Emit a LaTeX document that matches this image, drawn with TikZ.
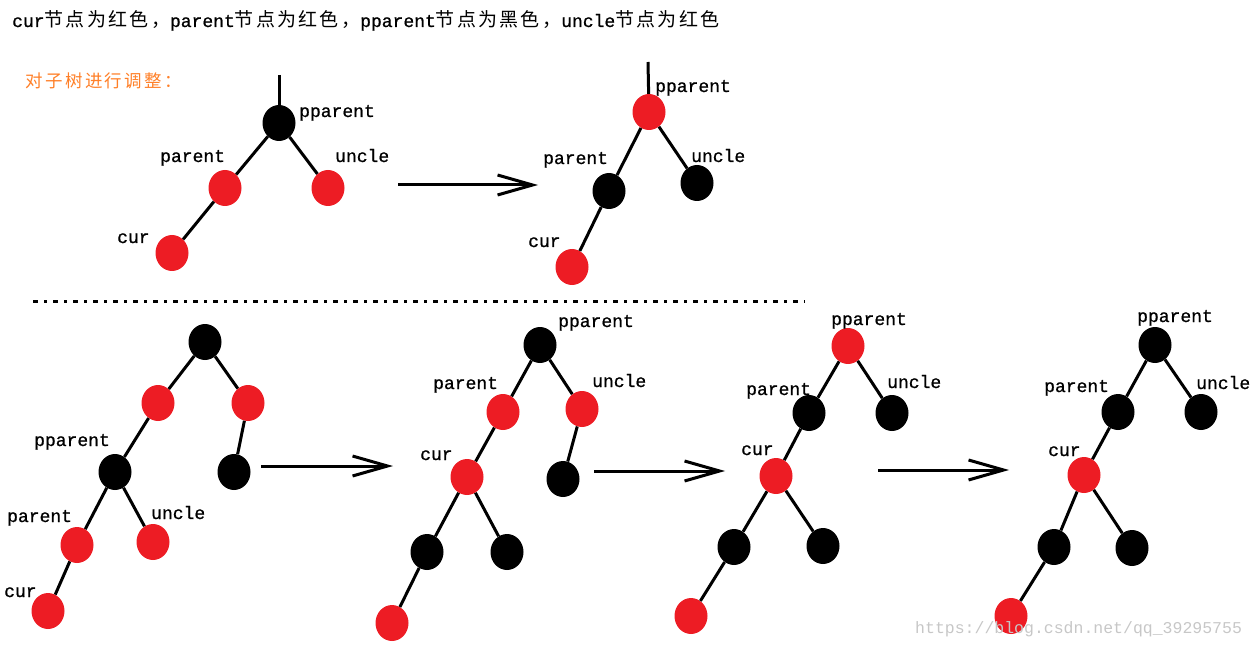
\documentclass[tikz,border=0pt]{standalone}
\usepackage{fontspec}
\setmainfont{Liberation Mono}[FakeBold=0.9]
\newfontfamily\wmfont{Liberation Mono}
\newfontfamily\cjk[LetterSpace=12]{Noto Sans CJK SC}
\newfontfamily\cjkb[LetterSpace=14]{Noto Sans CJK SC}
\usetikzlibrary{shapes.geometric,arrows.meta}
\definecolor{nred}{HTML}{ED1C24}
\definecolor{orng}{HTML}{FF7F27}
\newcommand\zh[1]{{\cjk\fontsize{19}{20}\selectfont #1}}
\begin{document}
\begin{tikzpicture}[x=1pt,y=-1pt,
  rn/.style={ellipse,fill=nred,minimum width=33pt,minimum height=36pt,inner sep=0pt},
  bn/.style={ellipse,fill=black,minimum width=33pt,minimum height=36pt,inner sep=0pt},
  lab/.style={inner sep=0pt,anchor=base west,font=\fontsize{18}{20}\selectfont},
  edge/.style={line width=3pt},
  bigarrow/.style={line width=3pt,-{Straight Barb[length=35pt,width=20pt]}},
  sep/.style={line width=3pt,dash pattern=on 5pt off 6pt on 3pt off 6pt}]
\useasboundingbox (0,0) rectangle (1256,647);

% header texts
\node[lab] (title) at (12,27) {cur\zh{节点为红色，}parent\zh{节点为红色，}pparent\zh{节点为黑色，}uncle\zh{节点为红色}};
\node[lab,text=orng] (sub) at (25,88) {{\cjkb\fontsize{17.5}{18}\selectfont 对子树进行调整：}};

% top-left tree
\node[bn] (a0) at (279,123) {};
\node[rn] (a1) at (225,188) {};
\node[rn] (a2) at (328,188) {};
\node[rn] (a3) at (172,253) {};
\coordinate (a0t) at (279,75);
\draw[edge] (a0t) -- (a0);
\draw[edge] (a0) -- (a1);
\draw[edge] (a0) -- (a2);
\draw[edge] (a1) -- (a3);
\node[lab] (la0) at (299,117) {pparent};
\node[lab] (la1) at (160,162) {parent};
\node[lab] (la2) at (335,162) {uncle};
\node[lab] (la3) at (117,243) {cur};

% arrow 1
\coordinate (r1s) at (398,185);
\coordinate (r1e) at (538,185);
\draw[bigarrow] (r1s) -- (r1e);

% top-right tree
\node[rn] (b0) at (649,112) {};
\node[bn] (b1) at (609,191) {};
\node[bn] (b2) at (697,183) {};
\node[rn] (b3) at (572,267) {};
\coordinate (b0t) at (648,62);
\draw[edge] (b0t) -- (b0);
\draw[edge] (b0) -- (b1);
\draw[edge] (b0) -- (b2);
\draw[edge] (b1) -- (b3);
\node[lab] (lb0) at (655,92) {pparent};
\node[lab] (lb1) at (543,164) {parent};
\node[lab] (lb2) at (691,162) {uncle};
\node[lab] (lb3) at (528,247) {cur};

% separator
\coordinate (s1) at (33,301);
\coordinate (s2) at (805,301);
\draw[sep] (s1) -- (s2);

% bottom-left tree
\node[bn] (c0) at (205,342) {};
\node[rn] (c1) at (158,403) {};
\node[rn] (c2) at (248,403) {};
\node[bn] (c3) at (115,472) {};
\node[bn] (c4) at (234,472) {};
\node[rn] (c5) at (77,545) {};
\node[rn] (c6) at (153,542) {};
\node[rn] (c7) at (48,611) {};
\draw[edge] (c0) -- (c1);
\draw[edge] (c0) -- (c2);
\draw[edge] (c1) -- (c3);
\draw[edge] (c2) -- (c4);
\draw[edge] (c3) -- (c5);
\draw[edge] (c3) -- (c6);
\draw[edge] (c5) -- (c7);
\node[lab] (lc3) at (34,446) {pparent};
\node[lab] (lc5) at (7,522) {parent};
\node[lab] (lc6) at (151,519) {uncle};
\node[lab] (lc7) at (4,597) {cur};

% arrow 2
\coordinate (r2s) at (261,466);
\coordinate (r2e) at (393,466);
\draw[bigarrow] (r2s) -- (r2e);

% middle tree 1
\node[bn] (d0) at (540,345) {};
\node[rn] (d1) at (503,412) {};
\node[rn] (d2) at (582,409) {};
\node[rn] (d3) at (467,477) {};
\node[bn] (d4) at (563,479) {};
\node[bn] (d5) at (427,552) {};
\node[bn] (d6) at (507,552) {};
\node[rn] (d7) at (392,623) {};
\draw[edge] (d0) -- (d1);
\draw[edge] (d0) -- (d2);
\draw[edge] (d1) -- (d3);
\draw[edge] (d2) -- (d4);
\draw[edge] (d3) -- (d5);
\draw[edge] (d3) -- (d6);
\draw[edge] (d5) -- (d7);
\node[lab] (ld0) at (558,327) {pparent};
\node[lab] (ld1) at (433,389) {parent};
\node[lab] (ld2) at (592,387) {uncle};
\node[lab] (ld3) at (420,460) {cur};

% arrow 3
\coordinate (r3s) at (594,471);
\coordinate (r3e) at (725,471);
\draw[bigarrow] (r3s) -- (r3e);

% middle tree 2
\node[rn] (e0) at (848,346) {};
\node[bn] (e1) at (809,413) {};
\node[bn] (e2) at (892,413) {};
\node[rn] (e3) at (776,476) {};
\node[bn] (e4) at (734,547) {};
\node[bn] (e5) at (823,546) {};
\node[rn] (e6) at (691,616) {};
\draw[edge] (e0) -- (e1);
\draw[edge] (e0) -- (e2);
\draw[edge] (e1) -- (e3);
\draw[edge] (e3) -- (e4);
\draw[edge] (e3) -- (e5);
\draw[edge] (e4) -- (e6);
\node[lab] (le0) at (831,325) {pparent};
\node[lab] (le1) at (746,395) {parent};
\node[lab] (le2) at (887,388) {uncle};
\node[lab] (le3) at (741,455) {cur};

% arrow 4
\coordinate (r4s) at (878,470);
\coordinate (r4e) at (1009,470);
\draw[bigarrow] (r4s) -- (r4e);

% right tree
\node[bn] (f0) at (1155,345) {};
\node[bn] (f1) at (1118,412) {};
\node[bn] (f2) at (1201,412) {};
\node[rn] (f3) at (1084,475) {};
\node[bn] (f4) at (1054,547) {};
\node[bn] (f5) at (1132,548) {};
\node[rn] (f6) at (1011,616) {};
\draw[edge] (f0) -- (f1);
\draw[edge] (f0) -- (f2);
\draw[edge] (f1) -- (f3);
\draw[edge] (f3) -- (f4);
\draw[edge] (f3) -- (f5);
\draw[edge] (f4) -- (f6);
\node[lab] (lf0) at (1137,322) {pparent};
\node[lab] (lf1) at (1044,392) {parent};
\node[lab] (lf2) at (1196,389) {uncle};
\node[lab] (lf3) at (1048,456) {cur};

% watermark
\node[lab,text=black!22,font=\wmfont\fontsize{16.5}{18}\selectfont] (wm) at (915,633) {https://blog.csdn.net/qq\_39295755};
\end{tikzpicture}
\end{document}
